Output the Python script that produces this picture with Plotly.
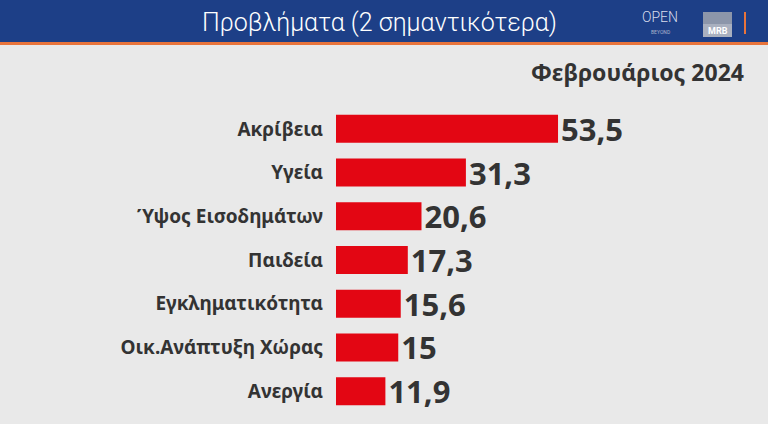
import plotly.graph_objects as go

# Δεδομένα
categories = ["Ακρίβεια", "Υγεία", "Ύψος Εισοδημάτων", "Παιδεία",
              "Εγκληματικότητα", "Οικ.Ανάπτυξη Χώρας", "Ανεργία"]
values = [53.5, 31.3, 20.6, 17.3, 15.6, 15, 11.9]
header_title = "Προβλήματα (2 σημαντικότερα)"
period_title = "Φεβρουάριος 2024"

COLORS = {
    "bar": "#e30613",
    "text": "#333333",
    "header": "#1d3f87",
    "accent": "#e8743b",
    "bg": "#e9e9e9",
}
FONT = "Noto Sans"

W, H = 768, 424
M = dict(l=336, r=17, t=107, b=11)
PW = W - M["l"] - M["r"]
PH = H - M["t"] - M["b"]


def px_x(x):
    return (x - M["l"]) / PW


def px_y(y):
    return (H - M["b"] - y) / PH


labels = [f"{v:g}".replace(".", ",") for v in values]

fig = go.Figure(go.Bar(
    x=values,
    y=categories,
    orientation="h",
    marker=dict(color=COLORS["bar"], line=dict(width=0)),
    text=labels,
    textposition="outside",
    constraintext="none",
    cliponaxis=False,
    textfont=dict(family=FONT, size=31, color=COLORS["text"], weight="bold"),
    hoverinfo="skip",
))

shapes = [
    dict(type="rect", xref="paper", yref="paper", x0=px_x(0), x1=px_x(W),
         y0=px_y(42), y1=px_y(0), fillcolor=COLORS["header"], line_width=0),
    dict(type="rect", xref="paper", yref="paper", x0=px_x(0), x1=px_x(W),
         y0=px_y(45), y1=px_y(42), fillcolor=COLORS["accent"], line_width=0),
    dict(type="line", xref="paper", yref="paper", x0=px_x(745), x1=px_x(745),
         y0=px_y(34), y1=px_y(12), line=dict(color=COLORS["accent"], width=2)),
    dict(type="rect", xref="paper", yref="paper", x0=px_x(703), x1=px_x(732),
         y0=px_y(37), y1=px_y(12), fillcolor="#8c96aa", line_width=0),
    dict(type="rect", xref="paper", yref="paper", x0=px_x(703), x1=px_x(732),
         y0=px_y(37), y1=px_y(24), fillcolor="#a9b0bf", line_width=0),
]

annotations = [
    dict(text=header_title, xref="paper", yref="paper", x=px_x(379), y=px_y(22),
         showarrow=False, xanchor="center", yanchor="middle",
         font=dict(family="Roboto", size=25, color="white", weight=300)),
    dict(text="OPEN", xref="paper", yref="paper", x=px_x(660), y=px_y(17),
         showarrow=False, xanchor="center", yanchor="middle",
         font=dict(family="Roboto", size=14, color="#d8dcec", weight=300)),
    dict(text="BEYOND", xref="paper", yref="paper", x=px_x(660), y=px_y(32),
         showarrow=False, xanchor="center", yanchor="middle",
         font=dict(family="Roboto", size=5, color="#aab3cc")),
    dict(text="MRB", xref="paper", yref="paper", x=px_x(717.5), y=px_y(31),
         showarrow=False, xanchor="center", yanchor="middle",
         font=dict(family="Roboto", size=9, color="white", weight="bold")),
    dict(text=period_title, xref="paper", yref="paper", x=px_x(746), y=px_y(72),
         showarrow=False, xanchor="right", yanchor="middle",
         font=dict(family=FONT, size=23, color=COLORS["text"], weight="bold")),
]

fig.update_layout(
    width=W, height=H,
    margin=M,
    paper_bgcolor=COLORS["bg"],
    plot_bgcolor="rgba(0,0,0,0)",
    showlegend=False,
    bargap=0.36,
    shapes=shapes,
    annotations=annotations,
    xaxis=dict(range=[0, PW / 4.15], visible=False, fixedrange=True),
    yaxis=dict(autorange="reversed", showgrid=False, zeroline=False, showline=False,
               ticks="", ticklabelstandoff=12,
               tickfont=dict(family=FONT, size=19, color=COLORS["text"], weight="bold")),
)

fig.write_html("out.html", config={"displayModeBar": False},
               post_script="document.body.style.margin='0';")
